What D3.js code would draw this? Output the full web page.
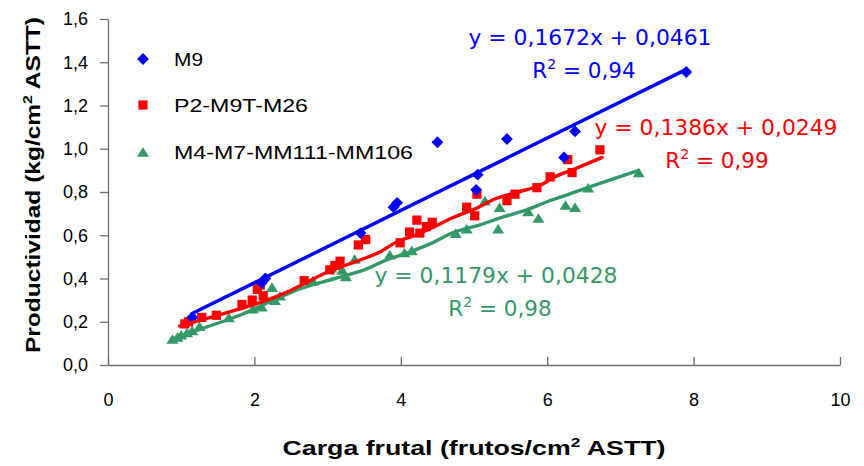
<!DOCTYPE html>
<html>
<head>
<meta charset="utf-8">
<script src="https://cdn.jsdelivr.net/npm/d3@7"></script>
<style>
  html, body { margin: 0; padding: 0; background: #fff; }
  svg { display: block; }
</style>
</head>
<body>
<svg id="chart" width="864" height="466"></svg>
<script>
// axis ticks
const xTicks = [0, 2, 4, 6, 8, 10];
const yTicks = [0, 0.2, 0.4, 0.6, 0.8, 1.0, 1.2, 1.4, 1.6];

// series names
const seriesNames = ['M9', 'P2-M9T-M26', 'M4-M7-MM111-MM106'];

// M9 (diamonds)
const m9X = [1.15, 2.1, 2.15, 3.45, 3.9, 3.95, 4.5, 5.03, 5.05, 5.45, 6.23, 6.38, 7.9];
const m9Y = [0.22, 0.38, 0.40, 0.61, 0.73, 0.75, 1.03, 0.81, 0.88, 1.045, 0.96, 1.08, 1.355];

// P2-M9T-M26 (squares)
const p2X = [1.05, 1.1, 1.28, 1.48, 1.83, 1.97, 2.04, 2.08, 2.12, 2.68, 3.03, 3.1, 3.17, 3.42, 3.52,
             3.99, 4.12, 4.22, 4.26, 4.35, 4.43, 4.9, 5.01, 5.04, 5.45, 5.56, 5.86, 6.04, 6.28, 6.34, 6.72];
const p2Y = [0.19, 0.20, 0.22, 0.23, 0.28, 0.30, 0.35, 0.37, 0.32, 0.39, 0.44, 0.46, 0.48, 0.555, 0.58,
             0.565, 0.615, 0.67, 0.61, 0.64, 0.66, 0.73, 0.69, 0.79, 0.76, 0.79, 0.82, 0.87, 0.95, 0.89, 0.995];

// M4-M7-MM111-MM106 (triangles)
const m4X = [0.88, 0.95, 1.0, 1.08, 1.15, 1.25, 1.65, 1.98, 2.1, 2.24, 2.28, 2.35, 2.8, 3.05, 3.2, 3.25,
             3.37, 3.85, 4.05, 4.15, 4.75, 4.9, 5.15, 5.33, 5.35, 5.74, 5.88, 6.25, 6.38, 6.56, 7.25];
const m4Y = [0.12, 0.13, 0.14, 0.15, 0.16, 0.18, 0.22, 0.26, 0.27, 0.36, 0.30, 0.32, 0.39, 0.45, 0.44, 0.41,
             0.49, 0.51, 0.52, 0.53, 0.61, 0.63, 0.76, 0.63, 0.73, 0.71, 0.68, 0.74, 0.73, 0.82, 0.89];

// trend lines as drawn
const m9FitX = [1.15, 7.9];
const m9FitY = [0.238, 1.367];
const p2FitX = [0.98, 1.5, 2.0, 2.4, 2.7, 3.0, 3.4, 3.7, 3.95, 4.2, 4.4, 4.7, 5.0, 5.3, 5.6, 5.9, 6.1, 6.4, 6.75];
const p2FitY = [0.18, 0.23, 0.28, 0.33, 0.38, 0.43, 0.48, 0.52, 0.57, 0.60, 0.63, 0.68, 0.72, 0.77, 0.80, 0.83, 0.87, 0.91, 0.96];
const m4FitX = [0.88, 1.3, 1.8, 2.2, 2.6, 3.1, 3.5, 3.8, 4.1, 4.4, 4.7, 5.1, 5.4, 5.7, 6.0, 6.3, 6.55, 7.25];
const m4FitY = [0.12, 0.17, 0.23, 0.29, 0.35, 0.40, 0.44, 0.485, 0.52, 0.56, 0.61, 0.65, 0.685, 0.715, 0.755, 0.79, 0.82, 0.90];

// equation labels
const eqLines = [
  ['y = 0,1672x + 0,0461', '0,94'],
  ['y = 0,1386x + 0,0249', '0,99'],
  ['y = 0,1179x + 0,0428', '0,98']
];

const colors = ['#0000ff', '#ff0000', '#339966'];

const svg = d3.select('#chart');
const plotLeft = 108, plotRight = 840, plotTop = 19, plotBottom = 365;

const xScale = d3.scaleLinear().domain([0, 10]).range([plotLeft, plotRight]);
const yScale = d3.scaleLinear().domain([0, 1.6]).range([plotBottom, plotTop]);
const comma = v => d3.format('.1f')(v).replace('.', ',');

// X axis (ticks point inward)
const xAxis = svg.append('g')
  .attr('transform', `translate(0,${plotBottom})`)
  .call(d3.axisBottom(xScale).tickValues(xTicks).tickSizeInner(-8).tickSizeOuter(0).tickPadding(28));
xAxis.select('.domain').attr('stroke', '#6e6e6e').attr('stroke-width', 1.3);
xAxis.selectAll('.tick line').attr('stroke', '#6e6e6e').attr('stroke-width', 1.3);
xAxis.selectAll('text')
  .attr('font-family', 'Liberation Sans, Arial, sans-serif')
  .attr('font-size', '18px')
  .attr('fill', '#000');

// Y axis (ticks outward)
const yAxis = svg.append('g')
  .attr('transform', `translate(${plotLeft},0)`)
  .call(d3.axisLeft(yScale).tickValues(yTicks).tickFormat(comma).tickSizeInner(8).tickSizeOuter(0).tickPadding(12));
yAxis.select('.domain').attr('stroke', '#6e6e6e').attr('stroke-width', 1.3);
yAxis.selectAll('.tick line').attr('stroke', '#6e6e6e').attr('stroke-width', 1.3);
yAxis.selectAll('text')
  .attr('font-family', 'Liberation Sans, Arial, sans-serif')
  .attr('font-size', '18px')
  .attr('fill', '#000');

// axis titles
const xTitle = svg.append('text')
  .attr('x', (plotLeft + plotRight) / 2)
  .attr('y', 455)
  .attr('text-anchor', 'middle')
  .attr('font-family', 'Liberation Sans, Arial, sans-serif')
  .attr('font-weight', 'bold')
  .attr('font-size', '20px')
  .attr('textLength', 383)
  .attr('lengthAdjust', 'spacingAndGlyphs');
xTitle.append('tspan').text('Carga frutal (frutos/cm');
xTitle.append('tspan').attr('font-size', '13px').attr('dy', -8).text('2');
xTitle.append('tspan').attr('dy', 8).text(' ASTT)');

const yTitle = svg.append('text')
  .attr('transform', `translate(40,185) rotate(-90)`)
  .attr('text-anchor', 'middle')
  .attr('font-family', 'Liberation Sans, Arial, sans-serif')
  .attr('font-weight', 'bold')
  .attr('font-size', '20px')
  .attr('textLength', 336)
  .attr('lengthAdjust', 'spacingAndGlyphs');
yTitle.append('tspan').text('Productividad (kg/cm');
yTitle.append('tspan').attr('font-size', '13px').attr('dy', -8).text('2');
yTitle.append('tspan').attr('dy', 8).text(' ASTT)');

// marker shapes
const diamond = d3.symbol().type(d3.symbolSquare).size(70);
const square = d3.symbol().type(d3.symbolSquare).size(85);
const flatTriangle = {
  draw(ctx, size) {
    const w = Math.sqrt(size) * 1.5, h = w * 0.8;
    ctx.moveTo(0, -h / 2);
    ctx.lineTo(w / 2, h / 2);
    ctx.lineTo(-w / 2, h / 2);
    ctx.closePath();
  }
};
const triangle = d3.symbol().type(flatTriangle).size(64);
const markers = [
  (sel) => sel.attr('d', diamond).attr('transform', d => `translate(${d[0]},${d[1]}) rotate(45)`),
  (sel) => sel.attr('d', square).attr('transform', d => `translate(${d[0]},${d[1]})`),
  (sel) => sel.attr('d', triangle).attr('transform', d => `translate(${d[0]},${d[1]})`)
];

const line = d3.line().x(d => xScale(d[0])).y(d => yScale(d[1]));
const smooth = d3.line().x(d => xScale(d[0])).y(d => yScale(d[1])).curve(d3.curveCatmullRom.alpha(0.5));

const pointSets = [d3.zip(m9X, m9Y), d3.zip(p2X, p2Y), d3.zip(m4X, m4Y)];
const fitSets = [d3.zip(m9FitX, m9FitY), d3.zip(p2FitX, p2FitY), d3.zip(m4FitX, m4FitY)];

// points first, then lines over them
[2, 1, 0].forEach(i => {
  svg.append('g').selectAll('path')
    .data(pointSets[i].map(p => [xScale(p[0]), yScale(p[1])]))
    .join('path')
    .attr('fill', colors[i])
    .call(markers[i]);
});
[2, 1, 0].forEach(i => {
  svg.append('path')
    .datum(fitSets[i])
    .attr('fill', 'none')
    .attr('stroke', colors[i])
    .attr('stroke-width', 3.4)
    .attr('stroke-linecap', 'round')
    .attr('d', i === 0 ? line : smooth);
});

// legend
const legendY = [59, 105, 152];
const legendLen = [29, 134, 239];
seriesNames.forEach((name, i) => {
  svg.append('path')
    .datum([143, legendY[i]])
    .attr('fill', colors[i])
    .call(markers[i]);
  svg.append('text')
    .attr('x', 174)
    .attr('y', legendY[i] + 6.5)
    .attr('font-family', 'Liberation Sans, Arial, sans-serif')
    .attr('font-size', '18px')
    .attr('textLength', legendLen[i])
    .attr('lengthAdjust', 'spacingAndGlyphs')
    .text(name);
});

// equation labels
const eqPos = [[590, 37, 584, 70], [716, 127, 717, 160], [496, 275, 500, 308]];
eqLines.forEach((eq, i) => {
  const g = svg.append('g')
    .attr('fill', colors[i])
    .attr('font-family', 'DejaVu Sans, Verdana, sans-serif')
    .attr('font-size', '21.5px')
    .attr('text-anchor', 'middle');
  g.append('text')
    .attr('x', eqPos[i][0])
    .attr('y', eqPos[i][1] + 8)
    .attr('textLength', 243)
    .attr('lengthAdjust', 'spacingAndGlyphs')
    .text(eq[0]);
  const r = g.append('text')
    .attr('x', eqPos[i][2])
    .attr('y', eqPos[i][3] + 8);
  r.append('tspan').text('R');
  r.append('tspan').attr('font-size', '14px').attr('dy', -9).text('2');
  r.append('tspan').attr('dy', 9).text(' = ' + eq[1]);
});
</script>
</body>
</html>
